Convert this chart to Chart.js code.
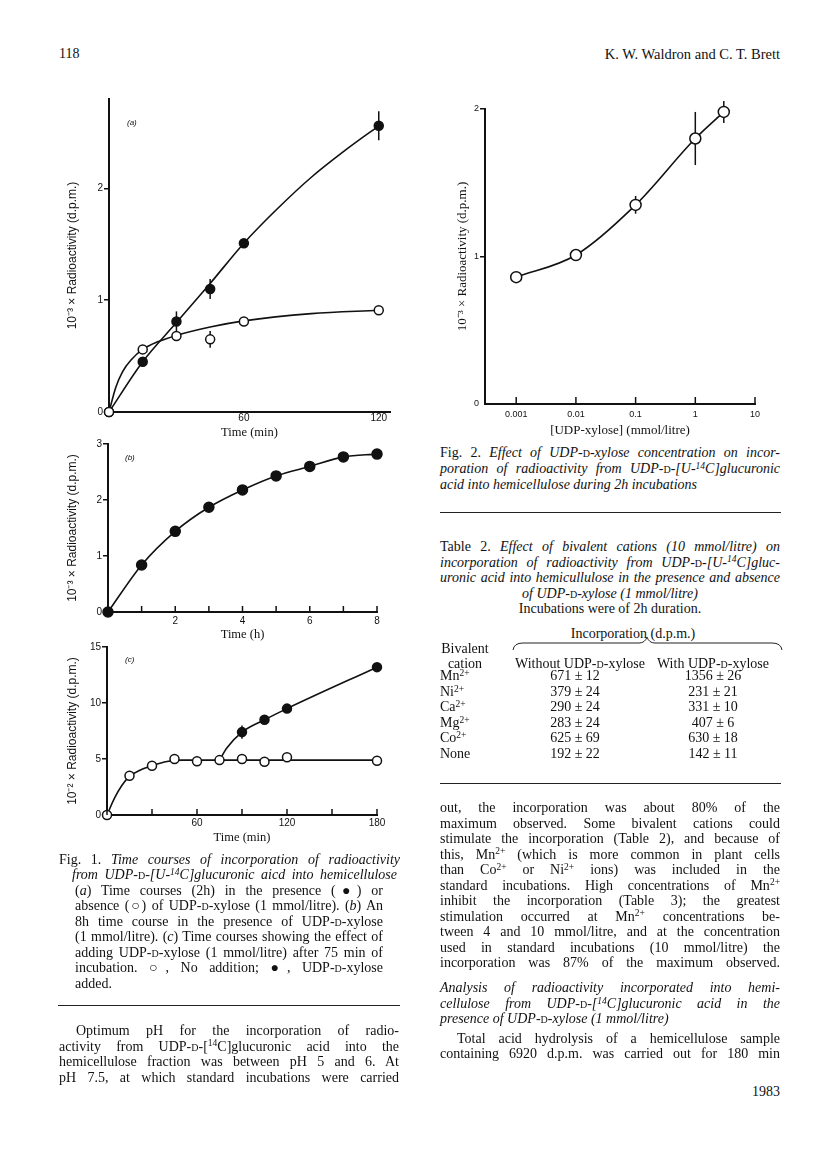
<!DOCTYPE html>
<html>
<head>
<meta charset="utf-8">
<script src="https://cdn.jsdelivr.net/npm/chart.js@4.4.1/dist/chart.umd.min.js"></script>
<style>
  body { margin: 0; background: #fff; }
  #page { position: relative; width: 816px; height: 1169px; background: #fff; color: #111; font-family: 'Liberation Serif', serif; }
  canvas { position: absolute; }
  .blk { position: absolute; font-size: 14px; line-height: 15.5px; }
  .blk > div { height: 15.5px; white-space: nowrap; }
  .j { text-align: justify; text-align-last: justify; }
  .c { text-align: center; }
  .r { text-align: right; }
  .sc { font-variant: small-caps; font-style: normal; }
  sup { font-size: 0.68em; vertical-align: baseline; position: relative; top: -0.45em; line-height: 0; }
  .rule { position: absolute; border-top: 1px solid #222; height: 0; }
  .panel { position: absolute; font-family: 'Liberation Sans', sans-serif; font-style: italic; font-size: 8px; }
  .row { position: relative; height: 12.6px; }
  .row > span { position: absolute; top: 0; }
  .c1 { left: 75px; width: 120px; text-align: center; }
  .c2 { left: 213px; width: 120px; text-align: center; }
</style>
</head>
<body>
<div id="page">
  <div class="blk" style="left:59px; top:46px;">118</div>
  <div class="blk r" style="left:500px; top:47px; width:280px; font-size:14.5px;">K. W. Waldron and C. T. Brett</div>

  <canvas id="fig1a" width="347" height="360" style="left:58px; top:80px;"></canvas>
  <canvas id="fig1b" width="332" height="212" style="left:58px; top:430px;"></canvas>
  <canvas id="fig1c" width="332" height="210" style="left:58px; top:635px;"></canvas>
  <canvas id="fig2" width="330" height="345" style="left:445px; top:95px;"></canvas>

  <div class="panel" style="left:127px; top:118px;">(a)</div>
  <div class="panel" style="left:125px; top:453px;">(b)</div>
  <div class="panel" style="left:125px; top:655px;">(c)</div>

  <!-- Fig. 1 legend -->
  <div class="blk" style="left:59px; top:851.8px; width:341px; line-height:15.44px;">
    <div class="j">Fig. 1. <i>Time courses of incorporation of radioactivity</i></div>
    <div class="j" style="margin-left:13px; width:325px;"><i>from UDP-<span class="sc">d</span>-[U-<sup>14</sup>C]glucuronic aicd into hemicellulose</i></div>
    <div class="j" style="margin-left:16px; width:308px;">(<i>a</i>) Time courses (2h) in the presence (●) or</div>
    <div class="j" style="margin-left:16px; width:308px;">absence (○) of UDP-<span class="sc">d</span>-xylose (1 mmol/litre). (<i>b</i>) An</div>
    <div class="j" style="margin-left:16px; width:308px;">8h time course in the presence of UDP-<span class="sc">d</span>-xylose</div>
    <div class="j" style="margin-left:16px; width:308px;">(1 mmol/litre). (<i>c</i>) Time courses showing the effect of</div>
    <div class="j" style="margin-left:16px; width:308px;">adding UDP-<span class="sc">d</span>-xylose (1 mmol/litre) after 75 min of</div>
    <div class="j" style="margin-left:16px; width:308px;">incubation. ○, No addition; ●, UDP-<span class="sc">d</span>-xylose</div>
    <div style="margin-left:16px;">added.</div>
  </div>
  <div class="rule" style="left:58px; top:1005px; width:342px;"></div>

  <div class="blk" style="left:59px; top:1023px; width:340px;">
    <div class="j" style="margin-left:17px;">Optimum pH for the incorporation of radio-</div>
    <div class="j">activity from UDP-<span class="sc">d</span>-[<sup>14</sup>C]glucuronic acid into the</div>
    <div class="j">hemicellulose fraction was between pH 5 and 6. At</div>
    <div class="j">pH 7.5, at which standard incubations were carried</div>
  </div>

  <!-- Fig. 2 legend -->
  <div class="blk" style="left:440px; top:445px; width:340px; line-height:16px;">
    <div class="j" style="height:16px;">Fig. 2. <i>Effect of UDP-<span class="sc">d</span>-xylose concentration on incor-</i></div>
    <div class="j" style="height:16px;"><i>poration of radioactivity from UDP-<span class="sc">d</span>-[U-<sup>14</sup>C]glucuronic</i></div>
    <div style="height:16px;"><i>acid into hemicellulose during 2h incubations</i></div>
  </div>
  <div class="rule" style="left:440px; top:512px; width:341px;"></div>

  <!-- Table 2 -->
  <div class="blk" style="left:440px; top:539px; width:340px; line-height:15.4px;">
    <div class="j">Table 2. <i>Effect of bivalent cations (10 mmol/litre) on</i></div>
    <div class="j"><i>incorporation of radioactivity from UDP-<span class="sc">d</span>-[U-<sup>14</sup>C]gluc-</i></div>
    <div class="j"><i>uronic acid into hemicullulose in the presence and absence</i></div>
    <div class="c"><i>of UDP-<span class="sc">d</span>-xylose (1 mmol/litre)</i></div>
    <div class="c">Incubations were of 2h duration.</div>
  </div>
  <div class="blk c" style="left:513px; top:625.5px; width:240px;">Incorporation (d.p.m.)</div>
  <svg style="position:absolute; left:0; top:0;" width="816" height="700">
    <path d="M513,650 Q514,643 523,643 L639,643 Q645,643 647,637 Q649,643 655,643 L772,643 Q781,643 782,650" fill="none" stroke="#222" stroke-width="1"/>
  </svg>
  <div class="blk" style="left:440px; top:640.5px; width:50px; line-height:15px;">
    <div class="c" style="height:15px;">Bivalent</div>
    <div class="c" style="height:15px;">cation</div>
  </div>
  <div class="blk" style="left:440px; top:655.5px; width:340px;">
    <div class="row"><span class="c1">Without UDP-<span class="sc">d</span>-xylose</span><span class="c2">With UDP-<span class="sc">d</span>-xylose</span></div>
  </div>
  <div class="blk" style="left:440px; top:670.4px; width:340px; line-height:12.6px;">
    <div class="row"><span>Mn<sup>2+</sup></span><span class="c1">671 ± 12</span><span class="c2">1356 ± 26</span></div>
    <div class="row"><span>Ni<sup>2+</sup></span><span class="c1">379 ± 24</span><span class="c2">231 ± 21</span></div>
    <div class="row"><span>Ca<sup>2+</sup></span><span class="c1">290 ± 24</span><span class="c2">331 ± 10</span></div>
    <div class="row"><span>Mg<sup>2+</sup></span><span class="c1">283 ± 24</span><span class="c2">407 ± 6</span></div>
    <div class="row"><span>Co<sup>2+</sup></span><span class="c1">625 ± 69</span><span class="c2">630 ± 18</span></div>
    <div class="row"><span>None</span><span class="c1">192 ± 22</span><span class="c2">142 ± 11</span></div>
  </div>
  <div class="rule" style="left:440px; top:783px; width:341px;"></div>

  <div class="blk" style="left:440px; top:800.2px; width:340px; line-height:15.53px;">
    <div class="j">out, the incorporation was about 80% of the</div>
    <div class="j">maximum observed. Some bivalent cations could</div>
    <div class="j">stimulate the incorporation (Table 2), and because of</div>
    <div class="j">this, Mn<sup>2+</sup> (which is more common in plant cells</div>
    <div class="j">than Co<sup>2+</sup> or Ni<sup>2+</sup> ions) was included in the</div>
    <div class="j">standard incubations. High concentrations of Mn<sup>2+</sup></div>
    <div class="j">inhibit the incorporation (Table 3); the greatest</div>
    <div class="j">stimulation occurred at Mn<sup>2+</sup> concentrations be-</div>
    <div class="j">tween 4 and 10 mmol/litre, and at the concentration</div>
    <div class="j">used in standard incubations (10 mmol/litre) the</div>
    <div class="j">incorporation was 87% of the maximum observed.</div>
  </div>
  <div class="blk" style="left:440px; top:980.4px; width:340px; line-height:15.85px;">
    <div class="j"><i>Analysis of radioactivity incorporated into hemi-</i></div>
    <div class="j"><i>cellulose from UDP-<span class="sc">d</span>-[<sup>14</sup>C]glucuronic acid in the</i></div>
    <div><i>presence of UDP-<span class="sc">d</span>-xylose (1 mmol/litre)</i></div>
  </div>
  <div class="blk" style="left:440px; top:1030.5px; width:340px; line-height:15.7px;">
    <div class="j" style="margin-left:17px;">Total acid hydrolysis of a hemicellulose sample</div>
    <div class="j">containing 6920 d.p.m. was carried out for 180 min</div>
  </div>
  <div class="blk r" style="left:680px; top:1084px; width:100px;">1983</div>
</div>

<script>
// Fig. 1(a): 2 h time courses, with / without UDP-xylose
const timeA = [0, 15, 30, 45, 60, 120];
const withXyloseA = [0, 0.45, 0.81, 1.10, 1.51, 2.56];
const withXyloseErrA = [0, 0, 0.09, 0.09, 0, 0.13];
const withoutXyloseA = [0, 0.56, 0.68, 0.65, 0.81, 0.91];
const withoutXyloseErrA = [0, 0, 0, 0.075, 0, 0];
// fitted curves
const curveWithTimeA = [0, 15, 30, 45, 60, 75, 90, 105, 120];
const curveWithA = [0, 0.45, 0.80, 1.15, 1.51, 1.82, 2.10, 2.34, 2.56];
const curveWithoutTimeA = [0, 3, 6, 10, 15, 22, 30, 45, 60, 90, 120];
const curveWithoutA = [0, 0.22, 0.36, 0.47, 0.56, 0.63, 0.685, 0.76, 0.815, 0.88, 0.91];
const xTicksA = [0, 60, 120];
const yTicksA = [0, 1, 2];

// Fig. 1(b): 8 h time course
const timeB = [0, 1, 2, 3, 4, 5, 6, 7, 8];
const radioB = [0, 0.84, 1.44, 1.87, 2.18, 2.43, 2.60, 2.77, 2.82];
const xTicksB = [0, 1, 2, 3, 4, 5, 6, 7, 8];
const xLabelsB = [2, 4, 6, 8];
const yTicksB = [0, 1, 2, 3];

// Fig. 1(c): UDP-xylose added after 75 min
const timeC = [0, 15, 30, 45, 60, 75, 90, 105, 120, 180];
const noAdditionC = [0, 3.5, 4.4, 5.0, 4.8, 4.9, 5.0, 4.75, 5.15, 4.85];
const noAdditionErrC = [0, 0, 0, 0, 0.4, 0.35, 0.3, 0, 0, 0];
const addedTimeC = [90, 105, 120, 180];
const xyloseAddedC = [7.4, 8.5, 9.5, 13.2];
const xyloseAddedErrC = [0.6, 0.3, 0.35, 0];
const curveNoAddTimeC = [0, 5, 10, 15, 22, 30, 40, 50, 180];
const curveNoAddC = [0, 1.5, 2.65, 3.45, 4.0, 4.4, 4.78, 4.9, 4.9];
const curveAddedTimeC = [75, 80, 90, 105, 120, 180];
const curveAddedC = [4.9, 6.0, 7.4, 8.5, 9.5, 13.2];
const xTicksC = [0, 30, 60, 90, 120, 150, 180];
const xLabelsC = [60, 120, 180];
const yTicksC = [0, 5, 10, 15];

// Fig. 2: UDP-xylose concentration
const xyloseConc = [0.001, 0.01, 0.1, 1, 3];
const radio2 = [0.86, 1.01, 1.35, 1.80, 1.98];
const radio2Err = [0, 0, 0.06, 0.18, 0.075];
const xTicks2 = [0.001, 0.01, 0.1, 1, 10];
const yTicks2 = [0, 1, 2];

const ink = '#111';
const pts = (xs, ys) => xs.map((x, i) => ({ x: x, y: ys[i] }));

// vertical error bars, drawn under the markers
const errorBars = {
  id: 'errorBars',
  beforeDatasetsDraw(chart) {
    const ctx = chart.ctx;
    const y = chart.scales.y;
    ctx.save();
    ctx.strokeStyle = ink;
    ctx.lineWidth = 1.5;
    chart.data.datasets.forEach((ds, i) => {
      if (!ds.errors) return;
      chart.getDatasetMeta(i).data.forEach((el, j) => {
        const e = ds.errors[j];
        if (!e) return;
        const v = ds.data[j].y;
        ctx.beginPath();
        ctx.moveTo(el.x, y.getPixelForValue(v - e));
        ctx.lineTo(el.x, y.getPixelForValue(v + e));
        ctx.stroke();
      });
    });
    ctx.restore();
  }
};

// small tick marks pointing into the plot from the x axis
const innerTicks = {
  id: 'innerTicks',
  afterDraw(chart, args, opts) {
    if (!opts || !opts.length) return;
    const ctx = chart.ctx;
    const x = chart.scales.x;
    const bottom = chart.chartArea.bottom;
    ctx.save();
    ctx.strokeStyle = ink;
    ctx.lineWidth = 1.5;
    x.ticks.forEach(t => {
      const px = x.getPixelForValue(t.value);
      ctx.beginPath();
      ctx.moveTo(px, bottom);
      ctx.lineTo(px, bottom - opts.length);
      ctx.stroke();
    });
    ctx.restore();
  }
};

Chart.register(errorBars, innerTicks);
Chart.defaults.animation = false;
Chart.defaults.color = ink;
Chart.defaults.font.family = "'Liberation Sans', sans-serif";

function pointSet(data, filled, errors, radius) {
  return {
    data: data,
    errors: errors,
    showLine: false,
    pointRadius: radius || 4.5,
    pointBorderWidth: 1.5,
    pointBorderColor: ink,
    pointBackgroundColor: filled ? ink : '#fff',
    order: 1,
    clip: false
  };
}

function curveSet(data) {
  return {
    data: data,
    borderColor: ink,
    borderWidth: 1.6,
    pointRadius: 0,
    cubicInterpolationMode: 'monotone',
    fill: false,
    order: 2,
    clip: false
  };
}

function yAxis(max, ticks, title, width, titleFont, titlePad, tickSize) {
  return {
    type: 'linear', min: 0, max: max,
    afterBuildTicks: s => { s.ticks = ticks.map(v => ({ value: v })); },
    afterFit: s => { s.width = width; },
    border: { display: true, color: ink, width: 2 },
    grid: {
      drawOnChartArea: false, drawTicks: true, tickLength: 5, lineWidth: 1.5,
      color: c => (c.tick && c.tick.value === 0) ? 'rgba(0,0,0,0)' : ink
    },
    ticks: { padding: 1, font: { size: tickSize || 10 }, color: ink },
    title: { display: true, text: title, font: titleFont, padding: { top: titlePad, bottom: 0 }, color: ink }
  };
}

function xAxis(min, max, ticks, labels, title, height, labelPad, extra) {
  return Object.assign({
    type: 'linear', min: min, max: max,
    afterBuildTicks: s => { s.ticks = ticks.map(v => ({ value: v })); },
    afterFit: s => { s.height = height; },
    border: { display: true, color: ink, width: 2 },
    grid: { display: false, drawTicks: false, tickLength: 0 },
    ticks: {
      padding: labelPad, maxRotation: 0, autoSkip: false, font: { size: 10 }, color: ink,
      callback: v => labels.includes(v) ? String(v) : ''
    },
    title: { display: true, text: title, font: { family: "'Liberation Serif', serif", size: 12.5 }, padding: 0, color: ink }
  }, extra || {});
}

const sansTitle = { family: "'Liberation Sans', sans-serif", size: 12 };

function baseOptions(pad, scales, tickLen) {
  return {
    responsive: false,
    devicePixelRatio: 1,
    layout: { padding: pad },
    plugins: { legend: { display: false }, tooltip: { enabled: false }, innerTicks: { length: tickLen || 0 } },
    scales: scales
  };
}

// Fig. 1(a)
new Chart(document.getElementById('fig1a'), {
  type: 'line',
  data: {
    datasets: [
      curveSet(pts(curveWithTimeA, curveWithA)),
      curveSet(pts(curveWithoutTimeA, curveWithoutA)),
      pointSet(pts(timeA, withoutXyloseA), false, withoutXyloseErrA),
      pointSet(pts(timeA, withXyloseA), true, withXyloseErrA)
    ]
  },
  options: baseOptions({ top: 19, right: 15, left: 0, bottom: 0 }, {
    x: xAxis(0, 125, xTicksA, [60, 120], 'Time (min)', 28, 0),
    y: yAxis(2.8, yTicksA, '10\u207B\u00B3 \u00D7 Radioactivity (d.p.m.)', 51, sansTitle, 7)
  })
});

// Fig. 1(b)
new Chart(document.getElementById('fig1b'), {
  type: 'line',
  data: {
    datasets: [
      curveSet(pts(timeB, radioB)),
      pointSet(pts(timeB, radioB), true, null, 5)
    ]
  },
  options: baseOptions({ top: 14, right: 13, left: 0, bottom: 0 }, {
    x: xAxis(0, 8, xTicksB, xLabelsB, 'Time (h)', 30, 3),
    y: yAxis(3, yTicksB, '10\u207B\u00B3 \u00D7 Radioactivity (d.p.m.)', 50, sansTitle, 7)
  }, 6)
});

// Fig. 1(c)
new Chart(document.getElementById('fig1c'), {
  type: 'line',
  data: {
    datasets: [
      curveSet(pts(curveNoAddTimeC, curveNoAddC)),
      curveSet(pts(curveAddedTimeC, curveAddedC)),
      pointSet(pts(timeC, noAdditionC), false, noAdditionErrC),
      pointSet(pts(addedTimeC, xyloseAddedC), true, xyloseAddedErrC)
    ]
  },
  options: baseOptions({ top: 12, right: 13, left: 0, bottom: 0 }, {
    x: xAxis(0, 180, xTicksC, xLabelsC, 'Time (min)', 30, 2),
    y: yAxis(15, yTicksC, '10\u207B\u00B2 \u00D7 Radioactivity (d.p.m.)', 49, sansTitle, 7)
  }, 6)
});

// Fig. 2
const x2 = xAxis(Math.pow(10, -3.5), 10, xTicks2, xTicks2, '[UDP-xylose] (mmol/litre)', 36, 5, { type: 'logarithmic' });
x2.ticks.font = { size: 9 };
x2.title.font = { family: "'Liberation Serif', serif", size: 13 };
x2.title.padding = { top: 0, bottom: 2 };
new Chart(document.getElementById('fig2'), {
  type: 'line',
  data: {
    datasets: [
      curveSet(pts(xyloseConc, radio2)),
      pointSet(pts(xyloseConc, radio2), false, radio2Err, 5.5)
    ]
  },
  options: baseOptions({ top: 14, right: 20, left: 0, bottom: 0 }, {
    x: x2,
    y: yAxis(2, yTicks2, '10\u207B\u00B3 \u00D7 Radioactivity (d.p.m.)', 40,
      { family: "'Liberation Serif', serif", size: 13 }, 10, 9)
  }, 7)
});
</script>
</body>
</html>
